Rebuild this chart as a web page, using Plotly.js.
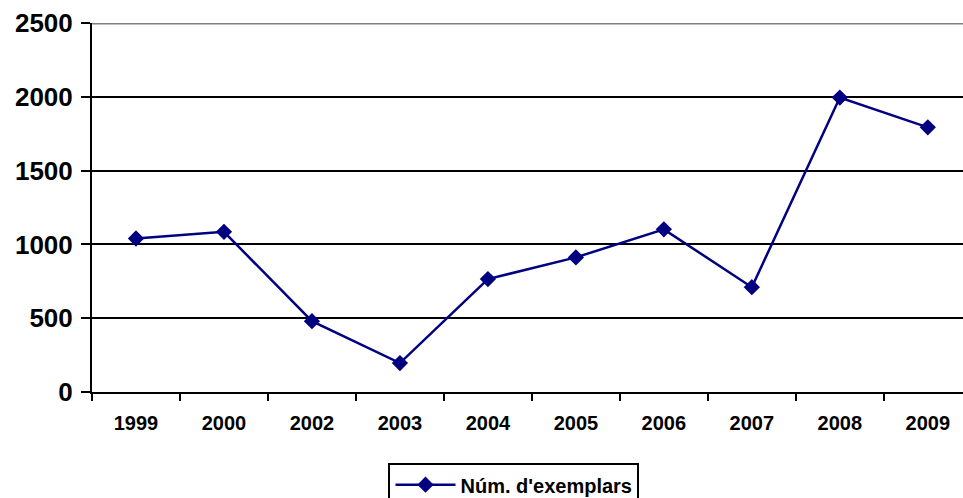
<!DOCTYPE html>
<html>
<head>
<meta charset="utf-8">
<script src="https://cdn.plot.ly/plotly-3.0.1.min.js"></script>
<style>html,body{margin:0;padding:0;background:#fff;}#chart{width:963px;height:498px;}</style>
</head>
<body>
<div id="chart"></div>
<script>
const years = ["1999","2000","2002","2003","2004","2005","2006","2007","2008","2009"];
const exemplars = [1040, 1085, 480, 196, 765, 912, 1102, 710, 1995, 1793];
const seriesName = "Núm. d'exemplars";
const yTicks = [0, 500, 1000, 1500, 2000, 2500];

const FONT = "'Liberation Sans', Arial, sans-serif";

const trace = {
  x: years,
  y: exemplars,
  type: 'scatter',
  mode: 'lines+markers',
  name: seriesName,
  line: {color: '#000080', width: 2.5},
  marker: {symbol: 'diamond', size: 12.5, color: '#000080'}
};

const layout = {
  width: 963,
  height: 498,
  margin: {l: 92, r: 0, t: 22.5, b: 106, autoexpand: false},
  paper_bgcolor: '#fff',
  plot_bgcolor: '#fff',
  showlegend: true,
  font: {family: FONT, color: '#000', weight: 700},
  xaxis: {
    type: 'category',
    range: [-0.5, 9.4],
    tickson: 'boundaries',
    ticks: 'outside',
    ticklen: 7,
    tickwidth: 2,
    tickcolor: '#000',
    showgrid: false,
    showline: true,
    linecolor: '#000',
    linewidth: 2,
    tickfont: {size: 20, family: FONT, weight: 700},
    ticklabelstandoff: 12,
    automargin: false,
    fixedrange: true
  },
  yaxis: {
    range: [0, 2500],
    tickvals: yTicks,
    ticktext: yTicks.map(String),
    ticks: 'outside',
    ticklen: 9,
    tickwidth: 2,
    tickcolor: '#000',
    showgrid: true,
    gridcolor: '#000',
    gridwidth: 2,
    zeroline: false,
    showline: true,
    linecolor: '#000',
    linewidth: 2,
    tickfont: {size: 26, family: FONT, weight: 700},
    ticklabelstandoff: 3,
    automargin: false,
    fixedrange: true
  },
  shapes: [{
    type: 'line', xref: 'paper', yref: 'y', x0: 0, x1: 1, y0: 2500, y1: 2500,
    line: {color: '#808080', width: 3}, layer: 'above'
  }],
  legend: {
    orientation: 'h',
    x: 0.4845, xanchor: 'center',
    y: -0.193, yanchor: 'top',
    bordercolor: '#000',
    borderwidth: 2,
    bgcolor: '#fff',
    font: {size: 20, family: FONT, weight: 700},
    itemwidth: 60
  }
};

Plotly.newPlot('chart', [trace], layout, {displayModeBar: false, staticPlot: true});
</script>
</body>
</html>
